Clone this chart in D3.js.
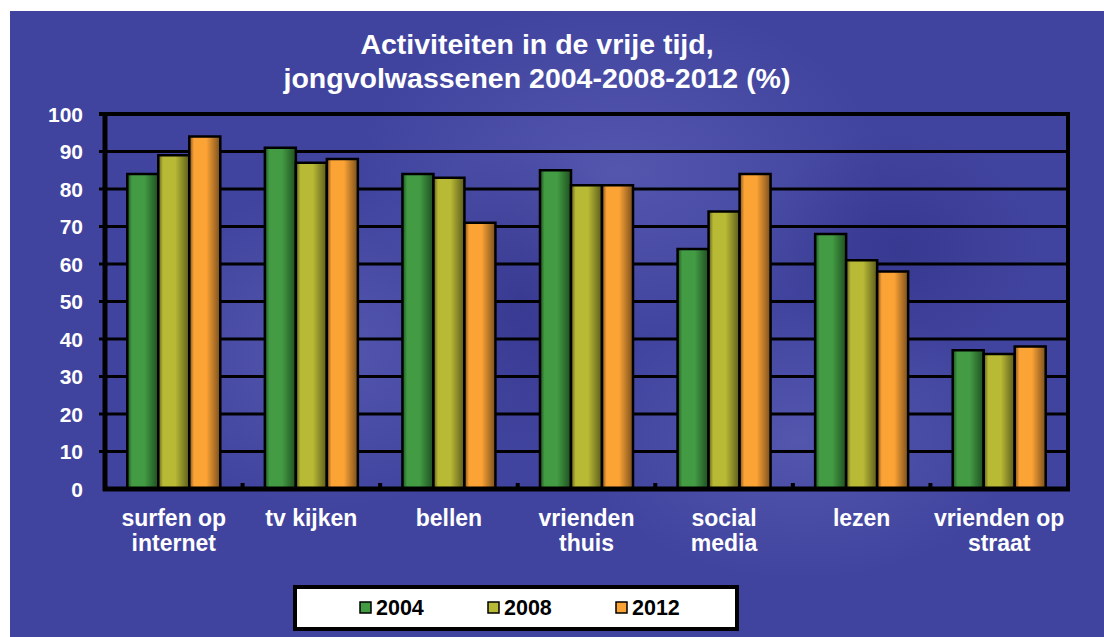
<!DOCTYPE html>
<html>
<head>
<meta charset="utf-8">
<script src="https://cdn.jsdelivr.net/npm/d3@7"></script>
<style>
  html, body { margin: 0; padding: 0; background: #fff; }
  svg { display: block; }
</style>
</head>
<body>
<div id="chart"></div>
<script>
'use strict';

var categories = [
  ['surfen op', 'internet'],
  ['tv kijken'],
  ['bellen'],
  ['vrienden', 'thuis'],
  ['social', 'media'],
  ['lezen'],
  ['vrienden op', 'straat']
];
var years = ['2004', '2008', '2012'];
var values2004 = [84, 91, 84, 85, 64, 68, 37];
var values2008 = [89, 87, 83, 81, 74, 61, 36];
var values2012 = [94, 88, 71, 81, 84, 58, 38];
var yTicks = [0, 10, 20, 30, 40, 50, 60, 70, 80, 90, 100];
var titleLines = ['Activiteiten in de vrije tijd,', 'jongvolwassenen 2004-2008-2012 (%)'];

var series = [values2004, values2008, values2012];
var barColors = [
  { light: '#439c44', dark: '#1f4f20' },
  { light: '#b8b935', dark: '#5c5c1c' },
  { light: '#fca335', dark: '#7a4f1d' }
];

var width = 1104, height = 637;
var plot = { left: 105, right: 1068, top: 114, bottom: 489 };
var font = 'Liberation Sans, Arial, sans-serif';

var svg = d3.select('#chart').append('svg')
  .attr('width', width)
  .attr('height', height);

var defs = svg.append('defs');

defs.append('clipPath').attr('id', 'bgClip')
  .append('rect')
  .attr('x', 10).attr('y', 11)
  .attr('width', width - 10).attr('height', height - 11);

// background texture
var bgGrad = defs.append('radialGradient').attr('id', 'bgGlow')
  .attr('cx', '0.5').attr('cy', '0.5').attr('r', '0.5');
bgGrad.append('stop').attr('offset', '0%').attr('stop-color', '#6a6cc0').attr('stop-opacity', 0.45);
bgGrad.append('stop').attr('offset', '100%').attr('stop-color', '#6a6cc0').attr('stop-opacity', 0);

var darkGlow = defs.append('radialGradient').attr('id', 'bgDark')
  .attr('cx', '0.5').attr('cy', '0.5').attr('r', '0.5');
darkGlow.append('stop').attr('offset', '0%').attr('stop-color', '#2c2a80').attr('stop-opacity', 0.45);
darkGlow.append('stop').attr('offset', '100%').attr('stop-color', '#2c2a80').attr('stop-opacity', 0);

barColors.forEach(function (c, i) {
  var g = defs.append('linearGradient').attr('id', 'bar' + i)
    .attr('x1', 0).attr('x2', 1).attr('y1', 0).attr('y2', 0);
  g.append('stop').attr('offset', '0%').attr('stop-color', c.dark);
  g.append('stop').attr('offset', '15%').attr('stop-color', c.light);
  g.append('stop').attr('offset', '55%').attr('stop-color', c.light);
  g.append('stop').attr('offset', '100%').attr('stop-color', c.dark);
});

var bg = svg.append('g').attr('clip-path', 'url(#bgClip)');

bg.append('rect')
  .attr('x', 10).attr('y', 11)
  .attr('width', width - 10).attr('height', height - 11)
  .attr('fill', '#41449e');

var glows = [
  { x: 620, y: 170, rx: 260, ry: 170, id: 'bgGlow' },
  { x: 330, y: 350, rx: 200, ry: 160, id: 'bgGlow' },
  { x: 800, y: 440, rx: 220, ry: 140, id: 'bgGlow' },
  { x: 520, y: 300, rx: 120, ry: 160, id: 'bgDark' },
  { x: 900, y: 250, rx: 140, ry: 120, id: 'bgDark' }
];
bg.selectAll('ellipse')
  .data(glows).enter()
  .append('ellipse')
  .attr('cx', function (d) { return d.x; })
  .attr('cy', function (d) { return d.y; })
  .attr('rx', function (d) { return d.rx; })
  .attr('ry', function (d) { return d.ry; })
  .attr('fill', function (d) { return 'url(#' + d.id + ')'; });

// title
svg.append('text')
  .attr('font-family', font)
  .attr('font-size', 28.5)
  .attr('font-weight', 'bold')
  .attr('fill', '#fff')
  .attr('text-anchor', 'middle')
  .selectAll('tspan')
  .data(titleLines).enter()
  .append('tspan')
  .attr('x', 537)
  .attr('y', function (d, i) { return 54 + i * 34; })
  .text(function (d) { return d; });

var y = d3.scaleLinear().domain([0, 100]).range([plot.bottom, plot.top]);
var x0 = d3.scaleBand().domain(d3.range(categories.length))
  .range([plot.left, plot.right]).paddingInner(0).paddingOuter(0);
var x1 = d3.scaleBand().domain(d3.range(years.length))
  .range([0, 93]);

// gridlines
svg.append('g').selectAll('line')
  .data(yTicks.filter(function (t) { return t > 0; })).enter()
  .append('line')
  .attr('x1', plot.left - 6).attr('x2', plot.right)
  .attr('y1', function (d) { return y(d); })
  .attr('y2', function (d) { return y(d); })
  .attr('stroke', '#000')
  .attr('stroke-width', function (d) { return d === 100 ? 4 : 3; });

// category tick marks on the axis
svg.append('g').selectAll('rect')
  .data(d3.range(1, categories.length)).enter()
  .append('rect')
  .attr('x', function (d) { return x0(d) - 2; })
  .attr('y', plot.bottom - 6)
  .attr('width', 4).attr('height', 6)
  .attr('fill', '#000');

// bars
var groups = svg.append('g').selectAll('g')
  .data(categories).enter()
  .append('g')
  .attr('transform', function (d, i) {
    return 'translate(' + (x0(i) + x0.bandwidth() / 2 - 46.5) + ',0)';
  });

groups.selectAll('rect')
  .data(function (d, i) {
    return series.map(function (s, k) { return { k: k, v: s[i] }; });
  }).enter()
  .append('rect')
  .attr('x', function (d) { return x1(d.k); })
  .attr('width', x1.bandwidth())
  .attr('y', function (d) { return y(d.v); })
  .attr('height', function (d) { return y(0) - y(d.v); })
  .attr('fill', function (d) { return 'url(#bar' + d.k + ')'; })
  .attr('stroke', '#000')
  .attr('stroke-width', 2.5);

// plot frame: left axis, right edge, bottom axis
svg.append('line')
  .attr('x1', plot.right).attr('x2', plot.right)
  .attr('y1', plot.top - 2).attr('y2', plot.bottom)
  .attr('stroke', '#000').attr('stroke-width', 4);
svg.append('line')
  .attr('x1', plot.left).attr('x2', plot.left)
  .attr('y1', plot.top - 2).attr('y2', plot.bottom + 2)
  .attr('stroke', '#000').attr('stroke-width', 5);
svg.append('line')
  .attr('x1', plot.left - 2).attr('x2', plot.right + 2)
  .attr('y1', plot.bottom).attr('y2', plot.bottom)
  .attr('stroke', '#000').attr('stroke-width', 5);

// y axis labels
svg.append('g').selectAll('text')
  .data(yTicks).enter()
  .append('text')
  .attr('x', 83)
  .attr('y', function (d) { return y(d) + 7.5; })
  .attr('text-anchor', 'end')
  .attr('font-family', font)
  .attr('font-size', 21)
  .attr('font-weight', 'bold')
  .attr('fill', '#fff')
  .text(function (d) { return d; });

// category labels
var catLabels = svg.append('g').selectAll('text')
  .data(categories).enter()
  .append('text')
  .attr('text-anchor', 'middle')
  .attr('font-family', font)
  .attr('font-size', 23)
  .attr('font-weight', 'bold')
  .attr('fill', '#fff');

catLabels.selectAll('tspan')
  .data(function (d, i) {
    return d.map(function (line) { return { line: line, i: i }; });
  }).enter()
  .append('tspan')
  .attr('x', function (d) { return x0(d.i) + x0.bandwidth() / 2; })
  .attr('y', function (d, j) { return 526 + j * 25; })
  .text(function (d) { return d.line; });

// legend
var legend = svg.append('g');
legend.append('rect')
  .attr('x', 295).attr('y', 587)
  .attr('width', 442).attr('height', 42)
  .attr('fill', '#fff')
  .attr('stroke', '#000')
  .attr('stroke-width', 4);

var legendX = d3.scalePoint().domain(years).range([360, 616]);

var items = legend.selectAll('g.item')
  .data(years).enter()
  .append('g')
  .attr('class', 'item')
  .attr('transform', function (d) { return 'translate(' + legendX(d) + ',0)'; });

items.append('rect')
  .attr('x', 0).attr('y', 602)
  .attr('width', 11).attr('height', 11)
  .attr('fill', function (d, i) { return barColors[i].light; })
  .attr('stroke', '#000')
  .attr('stroke-width', 1.5);

items.append('text')
  .attr('x', 16).attr('y', 615)
  .attr('font-family', font)
  .attr('font-size', 21.5)
  .attr('font-weight', 'bold')
  .attr('fill', '#000')
  .text(function (d) { return d; });
</script>
</body>
</html>
